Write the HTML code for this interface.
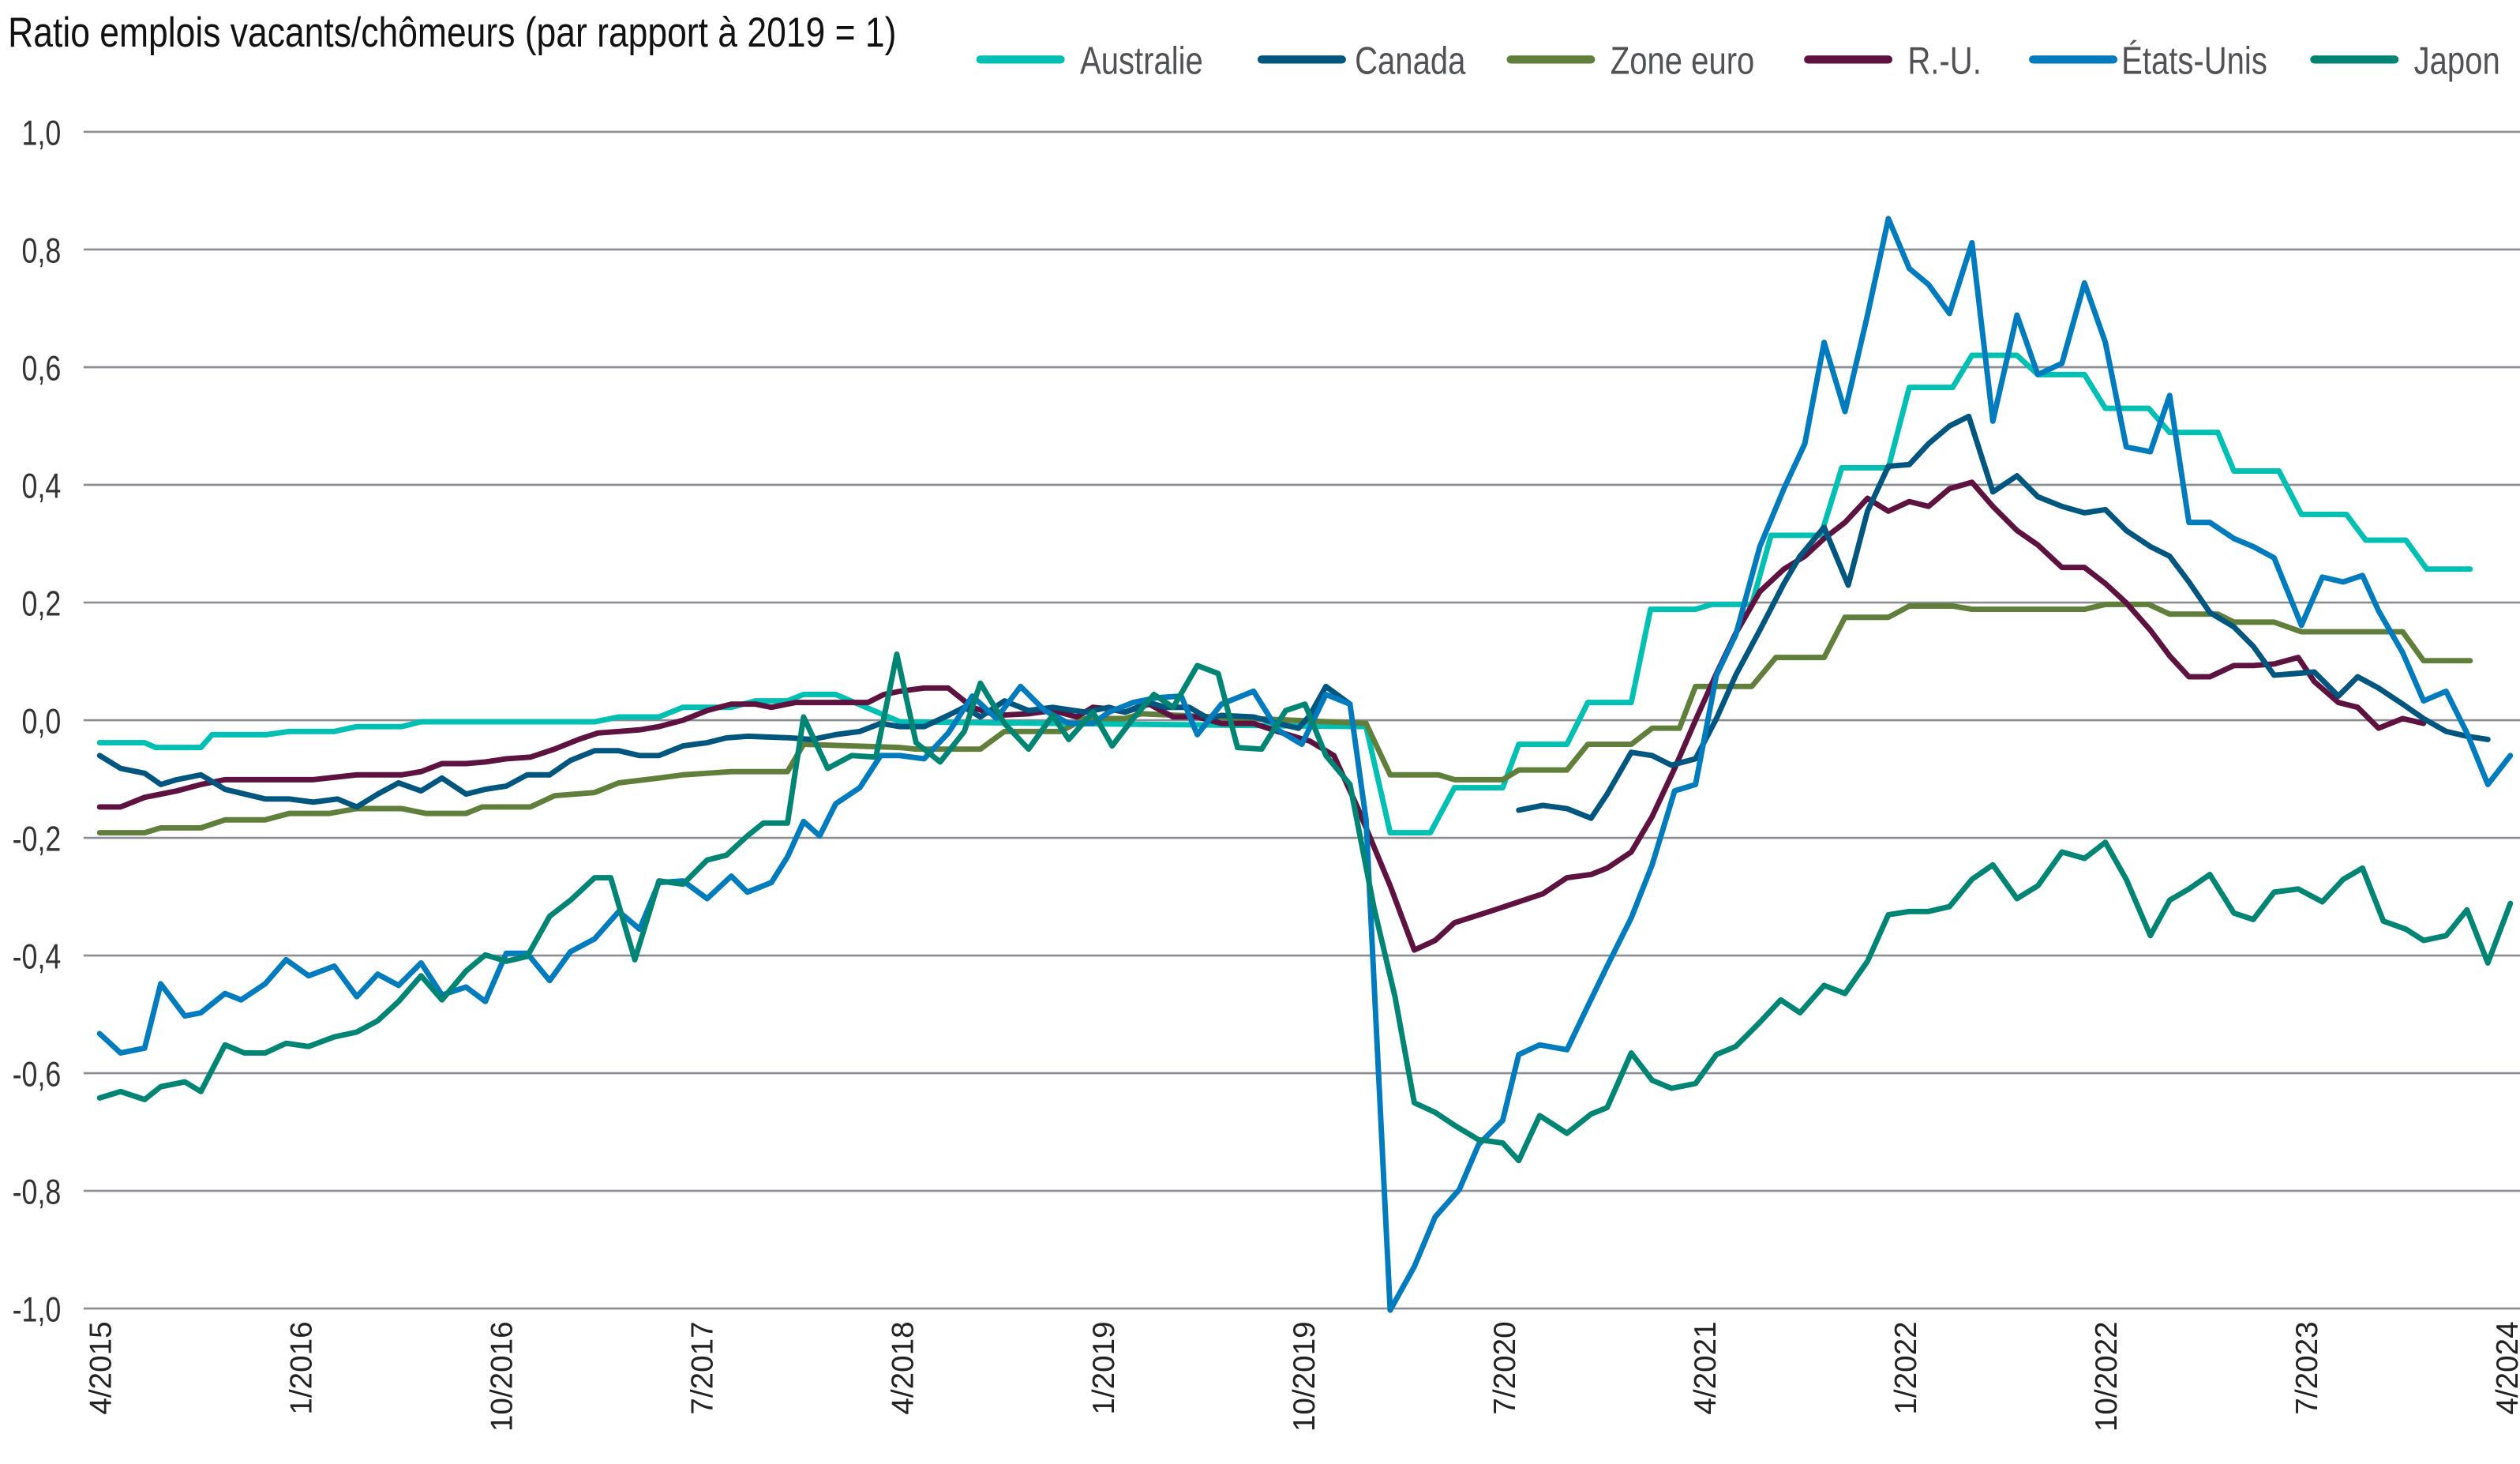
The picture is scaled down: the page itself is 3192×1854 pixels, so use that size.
<!DOCTYPE html>
<html><head><meta charset="utf-8"><style>html,body{margin:0;padding:0;background:#fff}svg{display:block}</style></head>
<body>
<svg id="c" width="3192" height="1854" viewBox="0 0 1568 910.7" xmlns="http://www.w3.org/2000/svg" font-family="Liberation Sans, sans-serif">
<rect width="1568" height="910.7" fill="#fff"/>
<g id="grid" stroke="#8a8d91" stroke-width="1.3"></g>
<g id="ylab" fill="#333" font-size="22"></g>
<g id="xlab" fill="#222" font-size="19"></g>
<text transform="translate(5,29) scale(0.84,1)" font-size="26" fill="#111">Ratio emplois vacants/chômeurs (par rapport à 2019 = 1)</text>
<g id="leg" font-size="24" fill="#505255"></g>
<g id="series" fill="none" stroke-width="3.4" stroke-linejoin="round" stroke-linecap="round"></g>
</svg>
<script>
const NS="http://www.w3.org/2000/svg";
function el(p,t,a,txt){const e=document.createElementNS(NS,t);for(const k in a)e.setAttribute(k,a[k]);if(txt)e.textContent=txt;document.getElementById(p).appendChild(e);return e;}
const ylabs=["1,0","0,8","0,6","0,4","0,2","0,0","-0,2","-0,4","-0,6","-0,8","-1,0"];
for(let k=0;k<=10;k++){const y=82+k*73.2;
 el("grid","line",{x1:52,x2:1568,y1:y,y2:y});
 el("ylab","text",{transform:`translate(38,${y+8}) scale(0.8,1)`,"text-anchor":"end"},ylabs[k]);}
const xl=["4/2015","1/2016","10/2016","7/2017","4/2018","1/2019","10/2019","7/2020","4/2021","1/2022","10/2022","7/2023","4/2024"];
xl.forEach((s,i)=>{const x=62+i*124.8;el("xlab","text",{transform:`translate(${x+7},822) rotate(-90)`,"text-anchor":"end"},s);});
const leg=[["Australie","#00bfb3",610,672],["Canada","#00567f",785,843],["Zone euro","#5f7f3a",940,1002],["R.-U.","#5e1240",1125,1187],["États-Unis","#007bbd",1265,1320],["Japon","#008575",1440,1502]];
leg.forEach(l=>{el("leg","line",{x1:l[2],x2:l[2]+50,y1:37,y2:37,stroke:l[1],"stroke-width":5,"stroke-linecap":"round"});
 el("leg","text",{transform:`translate(${l[3]},46) scale(0.82,1)`},l[0]);});
const S={
"#00bfb3":[[62,462],[90,462],[97,465],[125,465],[132,457],[166,457],[180,455],[208,455],[222,452],[250,452],[262,449],[370,449],[385,446],[410,446],[425,440],[455,440],[470,436],[490,436],[500,432],[520,432],[560,449],[850,452],[865,518],[890,518],[905,490],[935,490],[945,463],[975,463],[988,437],[1015,437],[1027,379],[1055,379],[1065,376],[1090,376],[1102,333],[1133,333],[1146,291],[1175,291],[1188,241],[1215,241],[1227,221],[1255,221],[1268,233],[1297,233],[1310,254],[1337,254],[1350,269],[1380,269],[1390,293],[1418,293],[1432,320],[1460,320],[1472,336],[1497,336],[1510,354],[1537,354]],
"#5f7f3a":[[62,518],[90,518],[100,515],[125,515],[140,510],[165,510],[180,506],[205,506],[222,503],[250,503],[265,506],[290,506],[300,502],[330,502],[345,495],[370,493],[385,487],[410,484],[425,482],[455,480],[490,480],[500,463],[560,465],[570,466],[610,466],[625,455],[660,455],[675,447],[700,447],[710,444],[850,450],[865,482],[895,482],[905,485],[935,485],[945,479],[975,479],[988,463],[1015,463],[1028,453],[1045,453],[1055,427],[1090,427],[1105,409],[1135,409],[1148,384],[1175,384],[1188,377],[1215,377],[1227,379],[1297,379],[1310,376],[1337,376],[1350,382],[1380,382],[1390,387],[1415,387],[1432,393],[1495,393],[1508,411],[1537,411]],
"#5e1240":[[62,502],[75,502],[90,496],[100,494],[110,492],[125,488],[140,485],[195,485],[222,482],[250,482],[262,480],[275,475],[290,475],[302,474],[315,472],[330,471],[345,466],[360,460],[372,456],[385,455],[398,454],[410,452],[425,448],[440,442],[455,438],[470,438],[480,440],[495,437],[540,437],[550,432],[560,430],[575,428],[590,428],[605,440],[620,445],[640,444],[655,442],[670,446],[680,440],[690,441],[700,443],[715,438],[730,446],[745,446],[760,450],[780,450],[795,455],[808,459],[815,461],[830,470],[845,503],[865,551],[880,591],[893,585],[905,574],[930,566],[960,556],[975,546],[990,544],[1000,540],[1015,530],[1028,508],[1042,478],[1055,448],[1068,419],[1080,394],[1095,368],[1110,354],[1123,346],[1135,335],[1148,325],[1162,310],[1175,318],[1188,312],[1200,315],[1213,304],[1227,300],[1240,315],[1255,330],[1268,339],[1283,353],[1297,353],[1310,363],[1323,375],[1338,392],[1350,408],[1362,421],[1375,421],[1390,414],[1402,414],[1415,413],[1430,409],[1440,424],[1455,437],[1467,440],[1480,453],[1495,447],[1508,450]],
"#00567f":[[62,470],[75,478],[90,481],[100,488],[110,485],[125,482],[140,491],[165,497],[180,497],[195,499],[210,497],[222,502],[235,494],[248,487],[262,492],[275,484],[290,494],[302,491],[315,489],[328,482],[342,482],[355,473],[370,467],[385,467],[398,470],[410,470],[425,464],[440,462],[452,459],[465,458],[492,459],[505,460],[520,457],[535,455],[548,450],[560,452],[575,452],[590,445],[600,440],[610,446],[625,436],[640,442],[655,440],[675,443],[690,440],[700,443],[715,437],[725,440],[740,440],[752,447],[760,445],[780,446],[795,450],[808,453],[815,445],[825,427],[840,438]],
"#00567f ":[[945,504],[960,501],[975,503],[990,509],[1000,494],[1015,468],[1028,470],[1040,476],[1055,472],[1068,447],[1080,420],[1095,392],[1110,363],[1120,346],[1135,328],[1150,364],[1162,318],[1175,290],[1188,289],[1200,276],[1213,265],[1225,259],[1240,306],[1255,296],[1268,309],[1283,315],[1297,319],[1310,317],[1323,330],[1338,340],[1350,346],[1362,362],[1375,381],[1390,390],[1402,402],[1415,420],[1428,419],[1440,418],[1455,433],[1467,421],[1480,428],[1495,438],[1508,447],[1522,455],[1535,458],[1548,460]],
"#007bbd":[[62,643],[75,655],[90,652],[100,612],[115,632],[125,630],[140,618],[150,622],[165,612],[178,597],[192,607],[208,601],[222,620],[235,606],[248,613],[262,599],[275,619],[290,614],[302,623],[315,593],[328,593],[342,610],[355,592],[370,584],[385,567],[398,578],[410,549],[425,548],[440,559],[455,545],[465,555],[480,549],[490,533],[500,511],[510,520],[520,500],[535,490],[548,470],[560,470],[575,472],[590,456],[605,433],[620,447],[635,427],[650,442],[665,450],[680,450],[690,443],[705,437],[720,434],[735,433],[745,457],[760,438],[780,430],[795,454],[810,463],[825,432],[840,438],[850,510],[865,815],[880,788],[893,757],[908,740],[920,712],[935,697],[945,656],[958,650],[975,653],[985,632],[1000,601],[1015,571],[1028,538],[1042,492],[1055,488],[1068,420],[1080,395],[1095,340],[1110,304],[1123,276],[1135,213],[1148,256],[1162,196],[1175,136],[1188,167],[1200,177],[1213,195],[1227,151],[1240,262],[1255,196],[1268,233],[1283,226],[1297,176],[1310,213],[1323,278],[1338,281],[1350,246],[1362,325],[1375,325],[1390,335],[1402,340],[1415,347],[1432,389],[1445,359],[1458,362],[1470,358],[1480,380],[1495,406],[1508,436],[1522,430],[1535,456],[1548,488],[1562,470]],
"#008575":[[62,683],[75,679],[90,684],[100,676],[115,673],[125,679],[140,650],[152,655],[165,655],[178,649],[192,651],[208,645],[222,642],[235,635],[248,623],[262,607],[275,622],[290,604],[302,594],[315,598],[328,595],[342,570],[355,560],[370,546],[380,546],[395,597],[410,548],[425,550],[440,535],[452,532],[465,520],[475,512],[490,512],[500,446],[515,478],[530,470],[545,471],[558,407],[570,462],[585,474],[600,455],[610,425],[625,450],[640,466],[655,445],[665,460],[680,443],[692,464],[705,447],[718,432],[730,440],[745,414],[758,419],[770,465],[785,466],[800,442],[812,438],[825,470],[840,488],[855,565],[868,620],[880,686],[893,692],[905,700],[920,709],[935,711],[945,722],[958,694],[975,705],[990,693],[1000,689],[1015,655],[1028,672],[1040,677],[1055,674],[1068,656],[1080,651],[1095,636],[1108,622],[1120,630],[1135,613],[1148,618],[1162,598],[1175,569],[1188,567],[1200,567],[1213,564],[1227,547],[1240,538],[1255,559],[1268,551],[1283,530],[1297,534],[1310,524],[1323,547],[1338,582],[1350,560],[1362,553],[1375,544],[1390,568],[1402,572],[1415,555],[1430,553],[1445,561],[1458,547],[1470,540],[1483,573],[1497,578],[1508,585],[1522,582],[1535,566],[1548,599],[1562,562]]
};
for(const c in S){el("series","path",{stroke:c.trim(),d:"M"+S[c].map(p=>p.join(",")).join("L")});}
</script>
</body></html>
